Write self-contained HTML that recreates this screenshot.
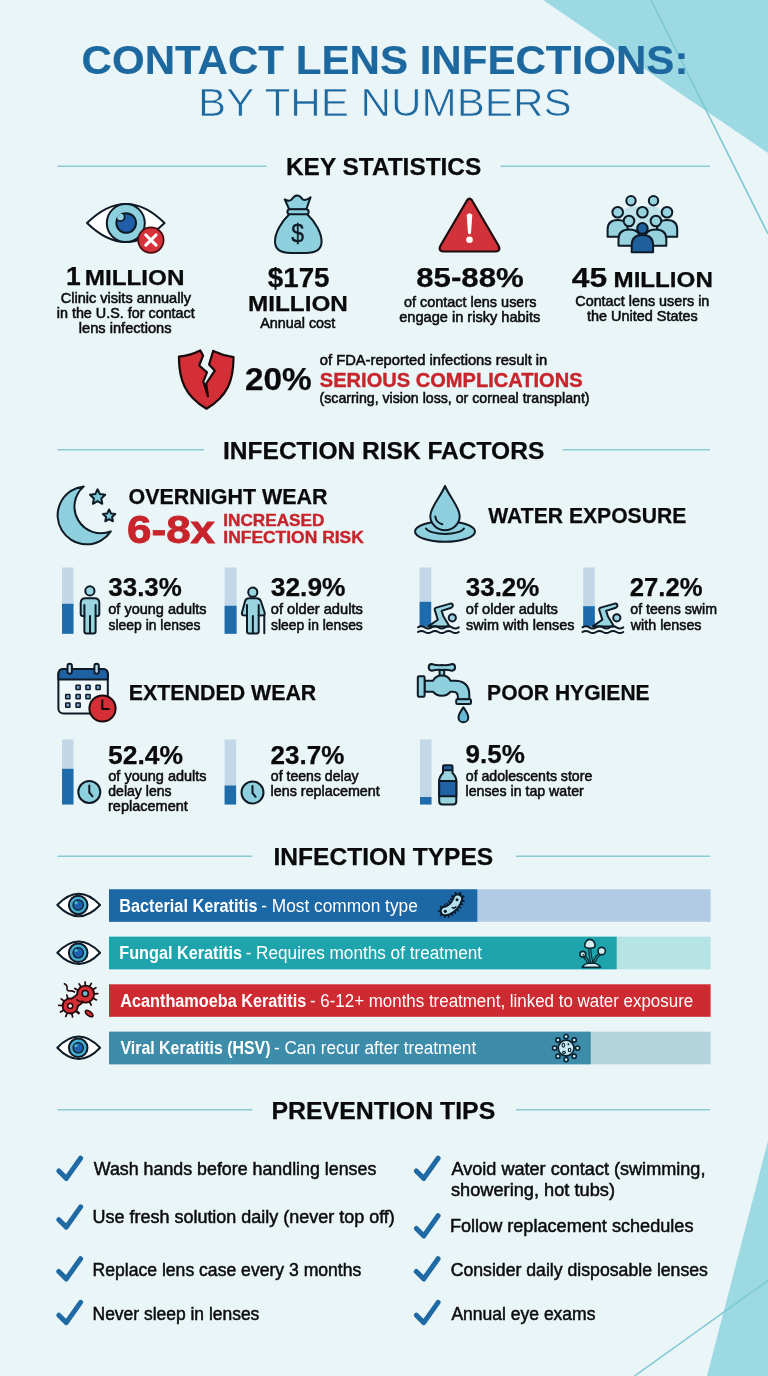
<!DOCTYPE html>
<html lang="en">
<head>
<meta charset="utf-8">
<title>Contact Lens Infections: By the Numbers</title>
<style>
  html, body { margin: 0; padding: 0; background: #e9f4f7; }
  body { width: 768px; height: 1376px; overflow: hidden; }
  svg { display: block; will-change: transform; }
  text { font-family: "Liberation Sans", sans-serif; fill: #0c0c0c; }
  .b { font-weight: 700; }
  .h { font-weight: 700; fill: #0a0a0a; stroke: #0a0a0a; stroke-width: 0.25px; }
  .red { fill: #c8242c; stroke: #c8242c; stroke-width: 0.4px; }
  .m { stroke: #0c0c0c; stroke-width: 0.55px; }
  .w { fill: #ffffff; }
  .t { stroke: #0c0c0c; stroke-width: 0.5px; }
  .ol { stroke: #0e1a26; stroke-width: 2; stroke-linejoin: round; stroke-linecap: round; }
  .lt { fill: #8fd0dc; }
  .ln { stroke: #8ccad5; stroke-width: 1.5; }
</style>
</head>
<body>
<svg width="768" height="1376" viewBox="0 0 768 1376">
  
  <!-- BACKGROUND -->
  <rect width="768" height="1376" fill="#e9f5f7"/>
  <polygon points="543,0 768,0 768,153" fill="#9cd9e2"/>
  <line x1="651" y1="0" x2="768" y2="234" stroke="#7ac8d4" stroke-width="1.5"/>
  <polygon points="768,1141 768,1376 707,1376" fill="#9cd9e2"/>
  <line x1="634.5" y1="1376" x2="768" y2="1280.5" stroke="#7ac8d4" stroke-width="1.5"/>

  <!-- TITLE -->
  <g id="title">
    <text x="81.55" y="74" font-size="41" class="b" style="fill:#1d689f;stroke:#1d689f;stroke-width:0.15px" textLength="606.84" lengthAdjust="spacingAndGlyphs">CONTACT LENS INFECTIONS:</text>
    <text x="198.00" y="116" font-size="39" style="fill:#1d689f;stroke:#e9f5f7;stroke-width:0.7px" textLength="373.56" lengthAdjust="spacingAndGlyphs">BY THE NUMBERS</text>
  </g>

  <!-- SECTION HEADINGS -->
  <g id="headings">
    <line class="ln" x1="57.5" y1="166.2" x2="266.5" y2="166.2"/>
    <text x="286.00" y="175.3" font-size="24.5" class="h" textLength="195.27" lengthAdjust="spacingAndGlyphs">KEY STATISTICS</text>
    <line class="ln" x1="500.5" y1="166.2" x2="710" y2="166.2"/>

    <line class="ln" x1="57.5" y1="449.8" x2="204" y2="449.8"/>
    <text x="223.00" y="459.4" font-size="24" class="h" textLength="321.27" lengthAdjust="spacingAndGlyphs">INFECTION RISK FACTORS</text>
    <line class="ln" x1="562.8" y1="449.8" x2="710" y2="449.8"/>

    <line class="ln" x1="57.5" y1="856.2" x2="252.4" y2="856.2"/>
    <text x="273.50" y="865.2" font-size="24.5" class="h" textLength="219.77" lengthAdjust="spacingAndGlyphs">INFECTION TYPES</text>
    <line class="ln" x1="516" y1="856.2" x2="710" y2="856.2"/>

    <line class="ln" x1="57.5" y1="1109.8" x2="252.4" y2="1109.8"/>
    <text x="271.50" y="1119.4" font-size="24.5" class="h" textLength="223.77" lengthAdjust="spacingAndGlyphs">PREVENTION TIPS</text>
    <line class="ln" x1="516" y1="1109.8" x2="710" y2="1109.8"/>
  </g>

  <!--KEYSTATS-->
  <g id="keystats">
    <!-- eye with X -->
    <g>
      <path d="M87,223 Q126,185 164.5,223 Q126,261 87,223 Z" fill="#ffffff" class="ol" stroke-width="2.2"/>
      <circle cx="125.8" cy="223.1" r="19" fill="#8ed0dd" class="ol"/>
      <circle cx="126.2" cy="223" r="9.8" fill="#1f5ea8" class="ol"/>
      <clipPath id="pc"><circle cx="126.2" cy="223" r="10.9"/></clipPath><circle cx="120.4" cy="216.9" r="4.2" fill="#8ed0dd" stroke="#0e1a26" stroke-width="1.8" clip-path="url(#pc)"/>
      <circle cx="150.9" cy="240.1" r="12.7" fill="#d5323a" stroke="#4a0d12" stroke-width="1.8"/>
      <path d="M145.8,235 L156,245.2 M156,235 L145.8,245.2" stroke="#ffffff" stroke-width="3.1" stroke-linecap="round"/>
    </g>
    <!-- money bag -->
    <g>
      <path d="M289.3,209.5 L284.7,199.4 Q288.5,201.8 291.4,199.8 Q296.9,191.5 302.6,199.3 Q306,201.2 310.6,197.2 L306.3,209.5 Z" fill="#8ed0dd" class="ol" stroke-width="2.3"/>
      <path d="M290,213.5 C281,222 275,233 275,241.5 C275,250 281,253 291,253 L305.5,253 C315.5,253 321.6,250 321.6,241.5 C321.6,233 315.5,222 306.5,213.5 Z" fill="#8ed0dd" class="ol" stroke-width="2.3"/>
      <rect x="287.4" y="209.2" width="21.3" height="5" rx="2.5" fill="#8ed0dd" class="ol" stroke-width="2.1"/>
      <text x="291.35" y="241.8" font-size="25" textLength="12.77" lengthAdjust="spacingAndGlyphs" style="fill:#0e1a26;stroke:#0e1a26;stroke-width:0.4px">$</text>
    </g>
    <!-- warning -->
    <g>
      <path d="M466.2,201.8 Q469.5,195.6 472.8,201.8 L498.3,245.3 Q501.6,251.5 494.5,251.5 L444.5,251.5 Q437.4,251.5 440.7,245.3 Z" fill="#d2323a" stroke="#1c0c0e" stroke-width="2.2" stroke-linejoin="round"/>
      <path d="M466.7,215 Q469.5,211.5 472.3,215 L471,233.3 Q469.5,235.3 468,233.3 Z" fill="#ffffff"/>
      <circle cx="469.5" cy="239.7" r="3.3" fill="#ffffff"/>
    </g>
    <!-- people -->
    <rect x="622.5" y="206.5" width="40" height="28" rx="9" fill="#bfe3ea"/>
    <g class="ol" fill="#97d3de" stroke-width="2">
      <circle cx="631" cy="200.7" r="4.7"/><circle cx="653.5" cy="200.7" r="4.7"/>
      <path d="M607.6,236.8 L607.6,229.5 Q607.6,220 617.7,220 Q627.8,220 627.8,229.5 L627.8,236.8 Z"/>
      <path d="M657,236.8 L657,229.5 Q657,220 667.1,220 Q677.2,220 677.2,229.5 L677.2,236.8 Z"/>
      <circle cx="617.7" cy="212.3" r="5.3"/><circle cx="642.4" cy="212.3" r="5.3"/><circle cx="667" cy="212.3" r="5.3"/>
      <path d="M618.5,245.8 L618.5,239 Q618.5,229.5 629.3,229.5 Q640,229.5 640,239 L640,245.8 Z"/>
      <path d="M644.8,245.8 L644.8,239 Q644.8,229.5 655.6,229.5 Q666.3,229.5 666.3,239 L666.3,245.8 Z"/>
      <circle cx="629" cy="221" r="5.3"/><circle cx="655.9" cy="221" r="5.3"/>
      <path d="M631.7,252.2 L631.7,245 Q631.7,235 642.4,235 Q653.1,235 653.1,245 L653.1,252.2 Z" fill="#1f5f9c"/>
      <circle cx="642.4" cy="228.4" r="5.3" fill="#1f5f9c"/>
    </g>

    <text x="66" y="285" font-size="26.5" class="h">1</text>
    <text x="84.70" y="285" font-size="22" class="h" textLength="99.83" lengthAdjust="spacingAndGlyphs">MILLION</text>
    <text x="60.70" y="303.2" font-size="14.6" class="m" textLength="130.25" lengthAdjust="spacingAndGlyphs">Clinic visits annually</text>
    <text x="56.75" y="318.3" font-size="14.6" class="m" textLength="138.00" lengthAdjust="spacingAndGlyphs">in the U.S. for contact</text>
    <text x="78.75" y="333" font-size="14.6" class="m" textLength="92.76" lengthAdjust="spacingAndGlyphs">lens infections</text>

    <text x="267.75" y="287" font-size="28" class="h" textLength="61.76" lengthAdjust="spacingAndGlyphs">$175</text>
    <text x="248.00" y="310.6" font-size="22" class="h" textLength="99.83" lengthAdjust="spacingAndGlyphs">MILLION</text>
    <text x="260.25" y="328" font-size="14.6" class="m" textLength="75.00" lengthAdjust="spacingAndGlyphs">Annual cost</text>

    <text x="416.25" y="287.4" font-size="28" class="h" textLength="107.52" lengthAdjust="spacingAndGlyphs">85-88%</text>
    <text x="403.95" y="306.8" font-size="14.6" class="m" textLength="132.50" lengthAdjust="spacingAndGlyphs">of contact lens users</text>
    <text x="399.25" y="322" font-size="14.6" class="m" textLength="141.00" lengthAdjust="spacingAndGlyphs">engage in risky habits</text>

    <text x="571.75" y="287" font-size="27.5" class="h" textLength="35.28" lengthAdjust="spacingAndGlyphs">45</text>
    <text x="613.50" y="287" font-size="21.5" class="h" textLength="99.33" lengthAdjust="spacingAndGlyphs">MILLION</text>
    <text x="575.30" y="306.3" font-size="14.6" class="m" textLength="134.01" lengthAdjust="spacingAndGlyphs">Contact lens users in</text>
    <text x="587.00" y="321.3" font-size="14.6" class="m" textLength="110.75" lengthAdjust="spacingAndGlyphs">the United States</text>

    <!-- broken heart shield -->
    <g>
      <path d="M178.9,356.7 Q190,355.5 200.2,350.4 L203.1,355.6 L199.2,365.5 L207,372.3 L203.3,381.7 L208,396.3 L206.2,383.5 L214.8,370.7 L209.1,364.5 L213.2,350.9 Q223,355.5 233.5,357.2 C233.5,380 228,396 206.5,408.7 C185,396 179,380 178.9,356.7 Z" fill="#d42f36" stroke="#1a0a0c" stroke-width="2.2" stroke-linejoin="round"/>
    </g>
    <text x="245.00" y="389.5" font-size="30.5" class="h" textLength="66.79" lengthAdjust="spacingAndGlyphs">20%</text>
    <text x="319.80" y="364.8" font-size="14.6" class="m" textLength="227.51" lengthAdjust="spacingAndGlyphs">of FDA-reported infections result in</text>
    <text x="319.80" y="386.9" font-size="20.8" class="b red" textLength="262.75" lengthAdjust="spacingAndGlyphs">SERIOUS COMPLICATIONS</text>
    <text x="319.55" y="403" font-size="14.6" class="m" textLength="270.01" lengthAdjust="spacingAndGlyphs">(scarring, vision loss, or corneal transplant)</text>
  </g>
  <!--RISK-->
  <g id="risk">
    <!-- moon -->
    <path d="M83.7,486.5 A29,29 0 1 0 110.8,531.4 A26.6,26.6 0 0 1 83.7,486.5 Z" fill="#8ed0dd" class="ol" stroke-width="2.2"/>
    <polygon points="97.6,489.3 99.9,494.1 105.2,494.8 101.3,498.5 102.3,503.8 97.6,501.2 92.9,503.8 93.9,498.5 90.0,494.8 95.3,494.1" fill="#7cc8d7" class="ol" stroke-width="1.9"/>
    <polygon points="109.1,509.5 111.0,513.4 115.3,514.0 112.1,517.0 112.9,521.3 109.1,519.2 105.3,521.3 106.1,517.0 102.9,514.0 107.2,513.4" fill="#7cc8d7" class="ol" stroke-width="1.9"/>
    <text x="128.55" y="504.4" font-size="22.3" class="h" textLength="199.00" lengthAdjust="spacingAndGlyphs">OVERNIGHT WEAR</text>
    <text x="127.05" y="542.6" font-size="39.6" class="b red" textLength="88.01" lengthAdjust="spacingAndGlyphs" style="stroke-width:0.8px">6-8x</text>
    <text x="223.30" y="525.9" font-size="16.4" class="b red" textLength="101.02" lengthAdjust="spacingAndGlyphs">INCREASED</text>
    <text x="223.30" y="542.5" font-size="16.8" class="b red" textLength="140.51" lengthAdjust="spacingAndGlyphs">INFECTION RISK</text>

    <!-- water drop -->
    <ellipse cx="445" cy="531.5" rx="30" ry="10.3" fill="#8ed0dd" class="ol" stroke-width="2.2"/>
    <path d="M426,528.5 A19.5,7 0 0 0 464,528.5" fill="none" class="ol" stroke-width="2"/>
    <path d="M445,486 C440.5,497 430.3,507 430.3,516 A14.7,14.2 0 0 0 459.7,516 C459.7,507 449.5,497 445,486 Z" fill="#8ed0dd" class="ol" stroke-width="2.2"/>
    <path d="M435.3,516.5 Q436,522.5 442.3,524.3" fill="none" class="ol" stroke-width="1.8"/>
    <text x="488.30" y="523.0" font-size="22.3" class="h" textLength="198.00" lengthAdjust="spacingAndGlyphs">WATER EXPOSURE</text>

    <!-- row 1 -->
    <rect x="62" y="567.5" width="11.5" height="66.29999999999995" fill="#c2d8e8"/><rect x="62" y="603.8" width="11.5" height="30.0" fill="#1e6cac"/>
    <g class="ol" fill="#9ad5df" stroke-width="1.8">
      <path d="M85.5,598.3 H94.5 Q99.3,598.3 99.3,603 V613.8 Q99.3,616 97.3,616 H95.6 V631.3 Q95.6,633.5 93.4,633.5 H86.6 Q84.4,633.5 84.4,631.3 V616 H82.7 Q80.7,616 80.7,613.8 V603 Q80.7,598.3 85.5,598.3 Z"/>
      <path d="M84.4,605 V616 M95.6,605 V616 M90,616 V633" fill="none"/>
      <circle cx="89.9" cy="590.9" r="4.6"/>
    </g>
    <text x="108.30" y="596.2" font-size="26" class="h" textLength="73.51" lengthAdjust="spacingAndGlyphs">33.3%</text>
    <text x="108.30" y="614.3" font-size="14.8" class="m" textLength="98.26" lengthAdjust="spacingAndGlyphs">of young adults</text>
    <text x="108.55" y="630" font-size="14.8" class="m" textLength="92.00" lengthAdjust="spacingAndGlyphs">sleep in lenses</text>

    <rect x="224.6" y="567.5" width="12" height="66.3" fill="#c2d8e8"/><rect x="224.6" y="605.8" width="12" height="28.0" fill="#1e6cac"/>
    <g class="ol" fill="#9ad5df" stroke-width="1.8">
      <path d="M249,598.3 H256.5 Q260,598.3 261,601.5 L264.6,612.5 Q265.2,615 263,615.3 L258.7,615.5 V631.3 Q258.7,633.5 256.5,633.5 H249.2 Q247,633.5 247,631.3 V615.5 L243.6,615.3 Q241.4,615 242,612.5 L245,601.5 Q245.8,598.3 249,598.3 Z"/>
      <path d="M247,605 V615.5 M258.7,605 V615.5 M252.85,616 V633 M264.3,615 V633.3" fill="none"/>
      <circle cx="252.8" cy="592.2" r="4.6"/>
    </g>
    <text x="270.80" y="596.2" font-size="26" class="h" textLength="74.77" lengthAdjust="spacingAndGlyphs">32.9%</text>
    <text x="270.80" y="614.3" font-size="14.8" class="m" textLength="92.01" lengthAdjust="spacingAndGlyphs">of older adults</text>
    <text x="271.05" y="630" font-size="14.8" class="m" textLength="91.75" lengthAdjust="spacingAndGlyphs">sleep in lenses</text>

    <rect x="419.6" y="567.5" width="11.6" height="59" fill="#c2d8e8"/><rect x="419.6" y="601.8" width="11.6" height="24.7" fill="#1e6cac"/>
    <g transform="translate(0,0)">
      <path d="M450.3,603.6 Q452.6,603.3 452.9,605.4 Q453,607.1 451.3,607.7 L441.6,610.9 L443.5,616.5 L449.5,626.4 L428.3,626.4 L437.8,619.8 L434.8,610 Q434.4,608.2 436.2,607.6 Z" fill="#9ad5df" class="ol" stroke-width="1.8"/>
      <circle cx="452.3" cy="617.8" r="3.6" fill="#9ad5df" class="ol" stroke-width="1.8"/>
      <path d="M418,627.3 q3.4,-2.2 6.8,0 t6.8,0 t6.8,0 t6.8,0 t6.8,0 t6.8,0" fill="none" class="ol" stroke-width="1.7"/>
      <path d="M418,632 q3.4,-2.2 6.8,0 t6.8,0 t6.8,0 t6.8,0 t6.8,0 t6.8,0" fill="none" class="ol" stroke-width="1.7"/>
    </g>
    <text x="465.80" y="596.2" font-size="26" class="h" textLength="73.51" lengthAdjust="spacingAndGlyphs">33.2%</text>
    <text x="465.80" y="614.3" font-size="14.8" class="m" textLength="92.01" lengthAdjust="spacingAndGlyphs">of older adults</text>
    <text x="466.05" y="630" font-size="14.8" class="m" textLength="108.50" lengthAdjust="spacingAndGlyphs">swim with lenses</text>

    <rect x="583.2" y="567.5" width="11.6" height="59" fill="#c2d8e8"/><rect x="583.2" y="606.2" width="11.6" height="20.3" fill="#1e6cac"/>
    <g transform="translate(164.5,0)">
      <path d="M450.3,603.6 Q452.6,603.3 452.9,605.4 Q453,607.1 451.3,607.7 L441.6,610.9 L443.5,616.5 L449.5,626.4 L428.3,626.4 L437.8,619.8 L434.8,610 Q434.4,608.2 436.2,607.6 Z" fill="#9ad5df" class="ol" stroke-width="1.8"/>
      <circle cx="452.3" cy="617.8" r="3.6" fill="#9ad5df" class="ol" stroke-width="1.8"/>
      <path d="M418,627.3 q3.4,-2.2 6.8,0 t6.8,0 t6.8,0 t6.8,0 t6.8,0 t6.8,0" fill="none" class="ol" stroke-width="1.7"/>
      <path d="M418,632 q3.4,-2.2 6.8,0 t6.8,0 t6.8,0 t6.8,0 t6.8,0 t6.8,0" fill="none" class="ol" stroke-width="1.7"/>
    </g>
    <text x="629.75" y="596.2" font-size="26" class="h" textLength="72.77" lengthAdjust="spacingAndGlyphs">27.2%</text>
    <text x="630.25" y="614.3" font-size="14.8" class="m" textLength="86.76" lengthAdjust="spacingAndGlyphs">of teens swim</text>
    <text x="630.75" y="630" font-size="14.8" class="m" textLength="70.75" lengthAdjust="spacingAndGlyphs">with lenses</text>

    <!-- calendar -->
    <g>
      <rect x="58.4" y="669" width="49.4" height="44.6" rx="5" fill="#eef7f9" class="ol" stroke-width="2.1"/>
      <path d="M58.4,679.4 L58.4,674 Q58.4,669 63.4,669 L102.8,669 Q107.8,669 107.8,674 L107.8,679.4 Z" fill="#1f62a4" class="ol" stroke-width="2.1"/>
      <rect x="67.5" y="663.8" width="4.4" height="10" rx="2.2" fill="#bcd9ea" class="ol" stroke-width="1.7"/>
      <rect x="94.4" y="663.8" width="4.4" height="10" rx="2.2" fill="#bcd9ea" class="ol" stroke-width="1.7"/>
      <g fill="#7aa7cf" stroke="#0e1a26" stroke-width="1.5"><rect x="76.0" y="685.3" width="4.2" height="4.2" rx="0.5"/><rect x="85.9" y="685.3" width="4.2" height="4.2" rx="0.5"/><rect x="96.0" y="685.3" width="4.2" height="4.2" rx="0.5"/><rect x="65.7" y="694.5" width="4.2" height="4.2" rx="0.5"/><rect x="76.0" y="694.5" width="4.2" height="4.2" rx="0.5"/><rect x="85.9" y="694.5" width="4.2" height="4.2" rx="0.5"/><rect x="65.7" y="703.1" width="4.2" height="4.2" rx="0.5"/><rect x="76.0" y="703.1" width="4.2" height="4.2" rx="0.5"/></g>
      <circle cx="102.5" cy="708.5" r="13.1" fill="#d42f36" stroke="#1a0a0c" stroke-width="2"/>
      <path d="M102.3,700.3 L102.3,709 L108.8,709" fill="none" stroke="#1a0a0c" stroke-width="2.1" stroke-linecap="round" stroke-linejoin="round"/>
    </g>
    <text x="128.75" y="700.3" font-size="22.3" class="h" textLength="187.51" lengthAdjust="spacingAndGlyphs">EXTENDED WEAR</text>

    <!-- faucet -->
    <g class="ol" fill="#8ed0dd" stroke-width="2.1">
      <rect x="439.6" y="669.5" width="4.6" height="7"/>
      <path d="M431.5,664 Q428.7,664.2 428.7,667.3 Q428.7,670.5 431.8,670.7 Q437,669.5 441.9,670 Q447,669.5 452,670.7 Q455.1,670.5 455.1,667.3 Q455.1,664.2 452.2,664 Q447,665.6 441.9,665.1 Q437,665.6 431.5,664 Z"/>
      <path d="M424.6,680.8 L433,680.8 Q435.5,675.5 441.9,675.5 Q448.3,675.5 450.5,680.8 L456,680.8 Q469.3,681.5 469.3,695 L469.3,699.2 L457.9,699.2 L457.9,697 Q457.9,691.7 453,691.7 L450.5,691.7 Q447.5,695.8 441.9,695.8 Q436,695.8 433,691.7 L424.6,691.7 Z"/>
      <rect x="417.8" y="676.3" width="6.8" height="20.4" rx="1.2"/>
      <rect x="456.2" y="699.2" width="14.8" height="4.8" rx="1.2"/>
      <path d="M463.4,707.3 Q458.5,714 458.5,717.4 A4.9,4.9 0 0 0 468.3,717.4 Q468.3,714 463.4,707.3 Z" fill="#66b9d2"/>
    </g>
    <text x="487.10" y="700.3" font-size="22.3" class="h" textLength="162.53" lengthAdjust="spacingAndGlyphs">POOR HYGIENE</text>

    <!-- row 2 -->
    <rect x="62" y="739.5" width="11.5" height="65.0" fill="#c2d8e8"/><rect x="62" y="768.8" width="11.5" height="35.700000000000045" fill="#1e6cac"/>
    <circle cx="89.3" cy="792" r="11" fill="#8ed0dd" class="ol" stroke-width="2"/><path d="M89.3,785.5 L89.3,792.5 L92.5,796.3" fill="none" class="ol" stroke-width="1.9"/>
    <text x="108.05" y="763.6" font-size="26" class="h" textLength="75.02" lengthAdjust="spacingAndGlyphs">52.4%</text>
    <text x="108.30" y="781.3" font-size="14.8" class="m" textLength="98.26" lengthAdjust="spacingAndGlyphs">of young adults</text>
    <text x="108.30" y="795.9" font-size="14.8" class="m" textLength="63.26" lengthAdjust="spacingAndGlyphs">delay lens</text>
    <text x="108.05" y="810.8" font-size="14.8" class="m" textLength="79.75" lengthAdjust="spacingAndGlyphs">replacement</text>

    <rect x="224.6" y="739.5" width="11.5" height="65.0" fill="#c2d8e8"/><rect x="224.6" y="785.5" width="11.5" height="19.0" fill="#1e6cac"/>
    <circle cx="252.5" cy="792.5" r="11" fill="#8ed0dd" class="ol" stroke-width="2"/><path d="M252.5,786.0 L252.5,793.0 L255.7,796.8" fill="none" class="ol" stroke-width="1.9"/>
    <text x="270.55" y="763.6" font-size="26" class="h" textLength="73.78" lengthAdjust="spacingAndGlyphs">23.7%</text>
    <text x="270.80" y="781.3" font-size="14.8" class="m" textLength="87.75" lengthAdjust="spacingAndGlyphs">of teens delay</text>
    <text x="270.55" y="795.9" font-size="14.8" class="m" textLength="109.25" lengthAdjust="spacingAndGlyphs">lens replacement</text>

    <rect x="420" y="739.5" width="11.5" height="65.0" fill="#c2d8e8"/><rect x="420" y="797" width="11.5" height="7.5" fill="#1e6cac"/>
    <g class="ol" stroke-width="1.9">
      <path d="M443,770 L443,773 Q439.2,776.5 439.2,781 L439.2,801.3 Q439.2,804.6 442.5,804.6 L453,804.6 Q456.3,804.6 456.3,801.3 L456.3,781 Q456.3,776.5 452.5,773 L452.5,770 Z" fill="#9ad5df"/>
      <rect x="439.2" y="781" width="17.1" height="15.2" fill="#1f63a6"/>
      <rect x="443" y="765.3" width="9.5" height="5" rx="1.3" fill="#1f63a6"/>
    </g>
    <text x="465.55" y="763.4" font-size="26" class="h" textLength="59.27" lengthAdjust="spacingAndGlyphs">9.5%</text>
    <text x="465.80" y="781.3" font-size="14.8" class="m" textLength="126.51" lengthAdjust="spacingAndGlyphs">of adolescents store</text>
    <text x="465.55" y="795.9" font-size="14.8" class="m" textLength="118.25" lengthAdjust="spacingAndGlyphs">lenses in tap water</text>
  </g>
  <!--TYPES-->
  <g id="types">
    <rect x="109" y="889.3" width="601.6" height="32.5" fill="#b0cbe3"/>
    <rect x="109" y="889.3" width="368.3" height="32.5" fill="#1c67a5"/>
    <rect x="109" y="936.7" width="601.6" height="32.6" fill="#b6e3e4"/>
    <rect x="109" y="936.7" width="507.7" height="32.6" fill="#1da4ac"/>
    <rect x="109" y="984.3" width="601.6" height="32.5" fill="#cd2a31"/>
    <rect x="109" y="1031.7" width="601.6" height="32.6" fill="#b4d4de"/>
    <rect x="109" y="1031.7" width="481.7" height="32.6" fill="#3d8ca9"/>
    <g><path d="M57.300000000000004,905 Q78.7,882.5 100.1,905 Q78.7,927.5 57.300000000000004,905 Z" fill="#ffffff" class="ol" stroke-width="2"/>
      <circle cx="78.2" cy="905" r="9.3" fill="#44aed0" class="ol" stroke-width="2"/>
      <circle cx="78.2" cy="905" r="5.2" fill="#1f5ea8" stroke="#0e1a26" stroke-width="1.2"/>
      <circle cx="76.10000000000001" cy="902.8" r="1.7" fill="#44aed0"/></g>
    <g><path d="M57.300000000000004,952.8 Q78.7,930.3 100.1,952.8 Q78.7,975.3 57.300000000000004,952.8 Z" fill="#ffffff" class="ol" stroke-width="2"/>
      <circle cx="78.2" cy="952.8" r="9.3" fill="#44aed0" class="ol" stroke-width="2"/>
      <circle cx="78.2" cy="952.8" r="5.2" fill="#1f5ea8" stroke="#0e1a26" stroke-width="1.2"/>
      <circle cx="76.10000000000001" cy="950.5999999999999" r="1.7" fill="#44aed0"/></g>
    <g>
      <path d="M76.1,1011.3 L78.6,1013.6 M71.9,1013.7 L72.6,1017.0 M67.1,1013.3 L65.8,1016.4 M63.4,1010.2 L60.6,1012.0 M62.2,1005.5 L58.8,1005.3 M63.9,1001.0 L61.2,998.9 M67.8,998.3 L66.8,995.0 M76.5,1010.8 L79.2,1012.9 M77.8,990.1 L74.8,988.5 M80.9,986.8 L79.1,983.9 M85.3,985.4 L85.1,982.0 M89.7,986.4 L91.3,983.4 M93.0,989.5 L95.9,987.7 M94.4,993.9 L97.8,993.7 M93.4,998.3 L96.4,999.9 M89.6,1002.0 L91.2,1005.0 " fill="none" stroke="#24060a" stroke-width="1.7" stroke-linecap="round"/>
      <path d="M64.4,983.8 Q67.6,985.2 67,988.3 Q66.8,991.2 70,991 Q72.2,990.4 74.5,992" fill="none" stroke="#24060a" stroke-width="1.6" stroke-linecap="round"/>
      <path d="M70.2,1005.9 L85.6,994.2" stroke="#24060a" stroke-width="11.4" stroke-linecap="round"/>
      <circle cx="70.2" cy="1005.9" r="8.5" fill="#24060a"/><circle cx="85.6" cy="994.2" r="9.4" fill="#24060a"/>
      <path d="M70.2,1005.9 L85.6,994.2" stroke="#d42f36" stroke-width="7.8" stroke-linecap="round"/>
      <circle cx="70.2" cy="1005.9" r="6.7" fill="#d42f36"/><circle cx="85.6" cy="994.2" r="7.6" fill="#d42f36"/>
      <circle cx="70.2" cy="1005.9" r="2.5" fill="#fbf3f3" stroke="#24060a" stroke-width="1.5"/>
      <circle cx="85.2" cy="993.6" r="3.1" fill="#6fbdd2" stroke="#24060a" stroke-width="1.5"/>
      <path d="M76.8,999.8 Q79.3,1002.4 82.8,1001.2" fill="none" stroke="#24060a" stroke-width="1.4" stroke-linecap="round"/>
      <ellipse cx="89.2" cy="1013.6" rx="4.4" ry="2.1" transform="rotate(36 89.2 1013.6)" fill="#d42f36" stroke="#24060a" stroke-width="1.5"/>
    </g>
    <g><path d="M57.300000000000004,1047.8 Q78.7,1025.3 100.1,1047.8 Q78.7,1070.3 57.300000000000004,1047.8 Z" fill="#ffffff" class="ol" stroke-width="2"/>
      <circle cx="78.2" cy="1047.8" r="9.3" fill="#44aed0" class="ol" stroke-width="2"/>
      <circle cx="78.2" cy="1047.8" r="5.2" fill="#1f5ea8" stroke="#0e1a26" stroke-width="1.2"/>
      <circle cx="76.10000000000001" cy="1045.6" r="1.7" fill="#44aed0"/></g>
    <g>
      <path d="M444.2,906.7 L445.1,906.5 L445.9,906.2 L446.7,905.9 L447.5,905.5 L448.2,905.0 L448.9,904.5 L449.6,903.9 L450.2,903.2 L450.9,902.5 L451.5,901.6 L452.1,900.7 L452.6,899.6 L453.2,898.5 L453.7,897.2 L454.6,895.8 L456.0,894.8 L457.7,894.4 L459.4,894.7 L460.8,895.6 L461.8,897.0 L462.2,898.7 L461.9,900.4 L461.2,902.0 L460.5,903.6 L459.7,905.1 L458.8,906.5 L457.8,907.9 L456.8,909.1 L455.6,910.3 L454.4,911.3 L453.2,912.3 L451.8,913.1 L450.4,913.9 L448.9,914.5 L447.4,915.0 L445.8,915.3 L444.1,915.3 L442.5,914.6 L441.3,913.4 L440.7,911.8 L440.7,910.1 L441.4,908.5 L442.6,907.3 Z" fill="none" stroke="#0b1a2a" stroke-width="5.6" stroke-dasharray="1.5 1.9"/>
      <path d="M444.2,906.7 L445.1,906.5 L445.9,906.2 L446.7,905.9 L447.5,905.5 L448.2,905.0 L448.9,904.5 L449.6,903.9 L450.2,903.2 L450.9,902.5 L451.5,901.6 L452.1,900.7 L452.6,899.6 L453.2,898.5 L453.7,897.2 L454.6,895.8 L456.0,894.8 L457.7,894.4 L459.4,894.7 L460.8,895.6 L461.8,897.0 L462.2,898.7 L461.9,900.4 L461.2,902.0 L460.5,903.6 L459.7,905.1 L458.8,906.5 L457.8,907.9 L456.8,909.1 L455.6,910.3 L454.4,911.3 L453.2,912.3 L451.8,913.1 L450.4,913.9 L448.9,914.5 L447.4,915.0 L445.8,915.3 L444.1,915.3 L442.5,914.6 L441.3,913.4 L440.7,911.8 L440.7,910.1 L441.4,908.5 L442.6,907.3 Z" fill="#b4e0ee" stroke="#0b1a2a" stroke-width="2" stroke-linejoin="round"/>
      <circle cx="445.3" cy="911.3" r="1.6" fill="#0b1a2a"/>
      <circle cx="457" cy="899.8" r="1.5" fill="#0b1a2a"/>
      <path d="M452.3,907.6 Q454.3,909 456,906.8" fill="none" stroke="#0b1a2a" stroke-width="1.5" stroke-linecap="round"/>
    </g>
    <g stroke-linecap="round" stroke-linejoin="round">
      <g fill="none" stroke="#0a2a33" stroke-width="3.3">
        <path d="M589.6,948 Q590,955 591.6,962.5"/><path d="M600,953.8 Q596.5,956.5 594.2,961.5"/><path d="M584,956.5 Q586.5,958.5 588.2,962"/>
      </g>
      <g fill="none" stroke="#2aa7b1" stroke-width="1">
        <path d="M589.6,948 Q590,955 591.6,962.5"/><path d="M600,953.8 Q596.5,956.5 594.2,961.5"/><path d="M584,956.5 Q586.5,958.5 588.2,962"/>
      </g>
      <g fill="#d3eff3" stroke="#0a2a33" stroke-width="1.7">
        <path d="M582.3,967.3 Q583.5,963.3 591.3,963 Q599.2,963.3 600.4,967.3 Z"/>
        <path d="M584.7,945.6 A5.2,6.2 0 0 1 595.1,945.6 Q595.1,948.3 589.9,948.3 Q584.7,948.3 584.7,945.6 Z"/>
        <circle cx="601.7" cy="951" r="3.7"/>
        <circle cx="582.8" cy="954.2" r="2.9"/>
      </g>
      <circle cx="583.2" cy="954.8" r="0.9" fill="#0a2a33"/>
    </g>
    <g>
      <g fill="#c9e9f2" stroke="#0a2230" stroke-width="1.6"><circle cx="566.1" cy="1036.6" r="2.1"/><circle cx="574.2" cy="1040.0" r="2.1"/><circle cx="577.6" cy="1048.1" r="2.1"/><circle cx="574.2" cy="1056.2" r="2.1"/><circle cx="566.1" cy="1059.6" r="2.1"/><circle cx="558.0" cy="1056.2" r="2.1"/><circle cx="554.6" cy="1048.1" r="2.1"/><circle cx="558.0" cy="1040.0" r="2.1"/>
      <circle cx="566.1" cy="1048.1" r="7.9" stroke-width="1.8"/></g>
      <g fill="none" stroke="#0a2230" stroke-width="1.1"><ellipse cx="563.4" cy="1045.2" rx="1.3" ry="1.9"/><ellipse cx="569.6" cy="1050" rx="1.3" ry="1.7"/><ellipse cx="564" cy="1052.6" rx="1.4" ry="1.2"/><circle cx="568.4" cy="1044.3" r="0.5"/></g>
    </g>
    <text x="119.25" y="911.7" font-size="18" class="b w" textLength="138.26" lengthAdjust="spacingAndGlyphs">Bacterial Keratitis</text><text x="261.25" y="911.7" font-size="18" class="w" textLength="156.50" lengthAdjust="spacingAndGlyphs">- Most common type</text>
    <text x="119.25" y="959.3" font-size="18" class="b w" textLength="122.76" lengthAdjust="spacingAndGlyphs">Fungal Keratitis</text><text x="245.65" y="959.3" font-size="18" class="w" textLength="236.50" lengthAdjust="spacingAndGlyphs">- Requires months of treatment</text>
    <text x="120.25" y="1006.7" font-size="18" class="b w" textLength="186.00" lengthAdjust="spacingAndGlyphs">Acanthamoeba Keratitis</text><text x="309.95" y="1006.7" font-size="18" class="w" textLength="383.25" lengthAdjust="spacingAndGlyphs">- 6-12+ months treatment, linked to water exposure</text>
    <text x="120.50" y="1054.3" font-size="18" class="b w" textLength="150.00" lengthAdjust="spacingAndGlyphs">Viral Keratitis (HSV)</text><text x="273.95" y="1054.3" font-size="18" class="w" textLength="202.25" lengthAdjust="spacingAndGlyphs">- Can recur after treatment</text>
  </g>
  <!--TIPS-->
  <g id="tips" transform="translate(0,0.4)">
    <path d="M58.8,1170.6 L66.3,1178.0 L80.6,1157.8" fill="none" stroke="#1f69a5" stroke-width="5" stroke-linecap="round" stroke-linejoin="round"/><text x="93.80" y="1175" font-size="18" class="t" textLength="282.50" lengthAdjust="spacingAndGlyphs">Wash hands before handling lenses</text>
    <path d="M58.8,1219.3 L66.3,1226.7 L80.6,1206.5" fill="none" stroke="#1f69a5" stroke-width="5" stroke-linecap="round" stroke-linejoin="round"/><text x="92.55" y="1223" font-size="18" class="t" textLength="302.26" lengthAdjust="spacingAndGlyphs">Use fresh solution daily (never top off)</text>
    <path d="M58.8,1271.1 L66.3,1278.5 L80.6,1258.3" fill="none" stroke="#1f69a5" stroke-width="5" stroke-linecap="round" stroke-linejoin="round"/><text x="92.55" y="1275.5" font-size="18" class="t" textLength="268.76" lengthAdjust="spacingAndGlyphs">Replace lens case every 3 months</text>
    <path d="M58.8,1314.8 L66.3,1322.2 L80.6,1302" fill="none" stroke="#1f69a5" stroke-width="5" stroke-linecap="round" stroke-linejoin="round"/><text x="92.55" y="1319.3" font-size="18" class="t" textLength="166.77" lengthAdjust="spacingAndGlyphs">Never sleep in lenses</text>
    <path d="M416.3,1170.6 L423.8,1178.0 L438.1,1157.8" fill="none" stroke="#1f69a5" stroke-width="5" stroke-linecap="round" stroke-linejoin="round"/><text x="451.45" y="1175" font-size="18" class="t" textLength="254.00" lengthAdjust="spacingAndGlyphs">Avoid water contact (swimming,</text>
    <text x="450.95" y="1195.5" font-size="18" class="t" textLength="164.01" lengthAdjust="spacingAndGlyphs">showering, hot tubs)</text>
    <path d="M416.3,1228.1 L423.8,1235.5 L438.1,1215.3" fill="none" stroke="#1f69a5" stroke-width="5" stroke-linecap="round" stroke-linejoin="round"/><text x="449.95" y="1231.8" font-size="18" class="t" textLength="243.51" lengthAdjust="spacingAndGlyphs">Follow replacement schedules</text>
    <path d="M416.3,1271.1 L423.8,1278.5 L438.1,1258.3" fill="none" stroke="#1f69a5" stroke-width="5" stroke-linecap="round" stroke-linejoin="round"/><text x="450.70" y="1275.5" font-size="18" class="t" textLength="257.25" lengthAdjust="spacingAndGlyphs">Consider daily disposable lenses</text>
    <path d="M416.3,1314.8 L423.8,1322.2 L438.1,1302" fill="none" stroke="#1f69a5" stroke-width="5" stroke-linecap="round" stroke-linejoin="round"/><text x="451.45" y="1319.3" font-size="18" class="t" textLength="144.00" lengthAdjust="spacingAndGlyphs">Annual eye exams</text>
  </g>
</svg>
</body>
</html>
